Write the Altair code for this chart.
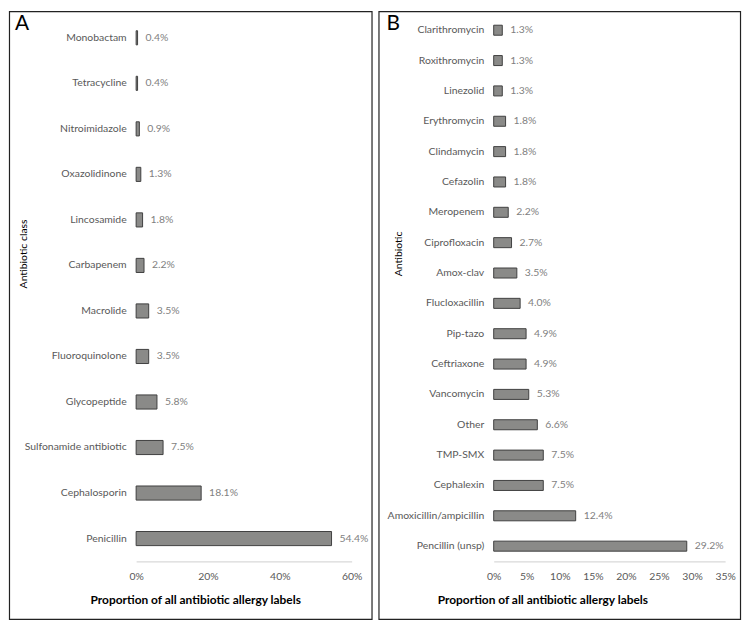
import altair as alt
import pandas as pd

# ---- data ----
classes = ["Monobactam", "Tetracycline", "Nitroimidazole", "Oxazolidinone", "Lincosamide",
           "Carbapenem", "Macrolide", "Fluoroquinolone", "Glycopeptide",
           "Sulfonamide antibiotic", "Cephalosporin", "Penicillin"]
class_vals = [0.4, 0.4, 0.9, 1.3, 1.8, 2.2, 3.5, 3.5, 5.8, 7.5, 18.1, 54.4]

drugs = ["Clarithromycin", "Roxithromycin", "Linezolid", "Erythromycin", "Clindamycin",
         "Cefazolin", "Meropenem", "Ciprofloxacin", "Amox-clav", "Flucloxacillin",
         "Pip-tazo", "Ceftriaxone", "Vancomycin", "Other", "TMP-SMX", "Cephalexin",
         "Amoxicillin/ampicillin", "Pencillin (unsp)"]
drug_vals = [1.3, 1.3, 1.3, 1.8, 1.8, 1.8, 2.2, 2.7, 3.5, 4.0, 4.9, 4.9, 5.3, 6.6,
             7.5, 7.5, 12.4, 29.2]

x_title = "Proportion of all antibiotic allergy labels"
FONT = "Lato"
LABEL_C = "#595959"
FS = 10.5
PAGE_TOP = 8      # page y of the panel borders' top
PAGE_BOTTOM = 620 # page y of the panel borders' bottom
PLOT_TOP = 12
PLOT_BOTTOM = 562


def panel(cats, vals, letter, ytitle, xmax, xstep, width, pad_inner,
          border_left, border_right, ytitle_x, xtitle_x, letter_x):
    plot_top, plot_bottom = PLOT_TOP, PLOT_BOTTOM
    h = plot_bottom - plot_top
    df = pd.DataFrame({"cat": cats, "val": vals})
    df["lab"] = [f"{v:.1f}%" for v in vals]
    y = alt.Y("cat:N", sort=cats, title=ytitle,
              scale=alt.Scale(paddingInner=pad_inner, paddingOuter=pad_inner / 2),
              axis=alt.Axis(ticks=False, domain=False, labelPadding=10,
                            labelFont=FONT, labelFontSize=FS, labelColor=LABEL_C,
                            titleFont=FONT, titleFontSize=FS, titleFontWeight="normal",
                            titleColor="#000", titleX=ytitle_x, titleY=252 - plot_top,
                            titleAngle=-90))
    x = alt.X("val:Q", title=x_title,
              scale=alt.Scale(domain=[0, xmax], nice=False),
              axis=alt.Axis(values=list(range(0, xmax + 1, xstep)),
                            labelExpr="datum.value + '%'", ticks=False, grid=False,
                            labelOverlap=False, labelFlush=False,
                            domainColor="#d9d9d9", domainWidth=1.2,
                            labelFont=FONT, labelFontSize=FS, labelColor=LABEL_C,
                            labelPadding=10, titleFont=FONT, titleFontSize=12,
                            titleFontWeight="bold", titleColor="#000",
                            titleX=xtitle_x, titleY=600 - plot_bottom,
                            titleBaseline="middle", titleAlign="center"))
    base = alt.Chart(df)
    bars = base.mark_bar(color="#8a8a88", stroke="#3f3f3f", strokeWidth=1).encode(y=y, x=x)
    text = base.mark_text(align="left", dx=8, font=FONT, fontSize=FS,
                          color="#7f7f7f").encode(y=y, x=x, text="lab:N")
    one = pd.DataFrame({"t": [letter]})
    border = alt.Chart(one).mark_rect(fill="transparent", stroke="#222",
                                      strokeWidth=1.2).encode(
        x=alt.value(border_left), x2=alt.value(border_right),
        y=alt.value(PAGE_TOP - plot_top + 0.5),
        y2=alt.value(PAGE_BOTTOM - plot_top + 0.5))
    let = alt.Chart(one).mark_text(align="left", baseline="top", font=FONT,
                                   fontSize=21, color="#000").encode(
        x=alt.value(letter_x), y=alt.value(10 - plot_top), text="t:N")
    return alt.layer(border, bars, text, let).properties(width=width, height=h)


left = panel(classes, class_vals, "A", "Antibiotic class", 60, 20, 217, 0.69,
             -127.5, 237.5, -108, 59.5, -122)
right = panel(drugs, drug_vals, "B", "Antibiotic", 35, 5, 233, 0.67,
              -115.5, 248.5, -91, 49, -108)

chart = alt.hconcat(left, right, spacing=4).resolve_scale(x="independent", y="independent") \
    .properties(padding=0).configure_view(strokeWidth=0)

chart.save("out.html", embed_options={"renderer": "svg", "actions": False})
